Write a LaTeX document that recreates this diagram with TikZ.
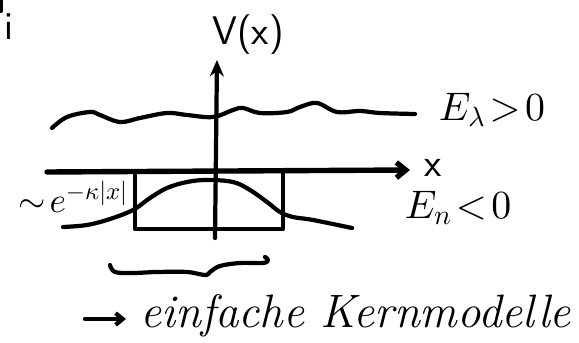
\documentclass[tikz,border=0pt]{standalone}
\usepackage{amsmath}
\usetikzlibrary{arrows.meta,positioning}
\DeclareFontShape{OML}{cmm}{m}{it}{<->cmmi10}{\skewchar\font127}
\DeclareFontShape{OMS}{cmsy}{m}{n}{<->cmsy10}{\skewchar\font48}
\DeclareFontShape{OT1}{cmr}{m}{n}{<->cmr10}{}

\begin{document}
\begin{tikzpicture}[x=0.03cm, y=-0.03cm,
    pen/.style={line width=3.6pt, line cap=round, line join=round},
    axis/.style={pen, line width=4.6pt},
    label/.style={inner sep=0pt, font=\sffamily\fontsize{34}{36}\selectfont},
    note/.style={inner sep=0pt, font=\itshape\fontsize{40}{42}\selectfont}
  ]
  \useasboundingbox (0,0) rectangle (579,343);

  % axes
  \coordinate (vbot)   at (215,238);
  \coordinate (vtop)   at (217,60);
  \coordinate (xleft)  at (47,172);
  \coordinate (xright) at (410,170);
  \draw[pen, -{Stealth[length=14pt,width=12pt]}] (vbot) -- (vtop);
  \draw[axis, -{Straight Barb[length=8pt,width=13pt]}] (xleft) -- (xright);

  \node[label] (Vx)   at (248,35)  {V(x)};
  \node[label] (xlab) at (433,168) {x};
  \node[label] (idx)  at (9,27)    {i};
  \draw[pen] (1,0) -- (1,11);

  % scattering level
  \draw[pen] plot[smooth, tension=0.6] coordinates {(52,128) (67,117) (90,112)
    (100,115) (120,122) (140,118) (167,113) (187,115) (213,117) (233,110)
    (243,108) (260,113) (287,112) (300,107) (317,103) (337,112) (360,111)
    (380,113) (415,114)};
  \node[label] (Epos) at (492,110) {$E_\lambda\mkern2mu{>}\mkern2mu0$};

  % potential well
  \draw[pen] (135,172) -- (135,229) -- (283,229) -- (283,172);

  % bound state
  \draw[pen] plot[smooth, tension=0.6] coordinates {(63,227) (87,225) (110,219)
    (133,210) (150,198) (167,188) (187,182) (207,180) (233,182) (250,190)
    (267,202) (280,212) (293,217) (313,220) (352,228)};
  \node[label] (Eneg)  at (458,208) {$E_n\mkern2mu{<}\mkern2mu0$};
  \node[label, font=\fontsize{30}{32}\selectfont] (decay) at (73,197)
    {$\sim\!e^{-\kappa|x|}$};

  % brace
  \draw[pen] plot[smooth, tension=0.6] coordinates {(110,265) (115,272)
    (133,273) (157,272) (187,272) (205,275) (210,272) (220,266) (240,263)
    (263,263) (268,260) (265,257)};

  \node[note, anchor=base west] (model) at (140,328) {einfache Kernmodelle};
  \coordinate (arrstart) at (85,319);
  \draw[pen, -{Straight Barb[length=6pt,width=10pt]}, shorten >=12pt]
    (arrstart) -- (arrstart -| model.west);
\end{tikzpicture}
\end{document}
